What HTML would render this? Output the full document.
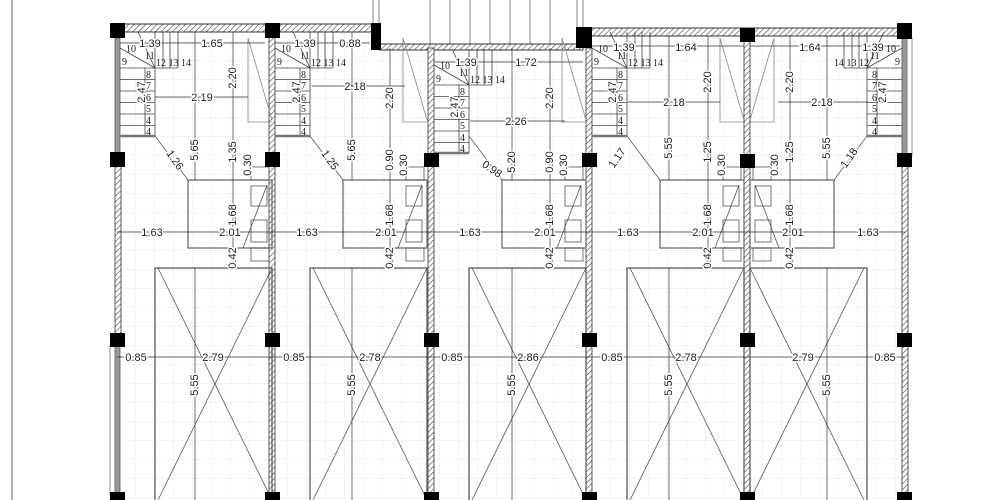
<!DOCTYPE html>
<html><head><meta charset="utf-8"><style>
html,body{margin:0;padding:0;background:#fff;}
svg{display:block;}
.d{font-family:"Liberation Sans",sans-serif;font-size:11px;fill:#222;stroke:#fff;stroke-width:3px;paint-order:stroke;stroke-linejoin:round;}
.n{font-family:"Liberation Serif",serif;font-size:10px;fill:#222;}
</style></head><body>
<svg width="1000" height="500" viewBox="0 0 1000 500" xmlns="http://www.w3.org/2000/svg">
<defs>
<pattern id="g" width="19" height="19" patternUnits="userSpaceOnUse" x="3" y="4">
<path d="M19 0V19M0 19H19" stroke="#e7e7e7" stroke-width="1" fill="none"/></pattern>
<pattern id="h" width="4" height="4" patternUnits="userSpaceOnUse" patternTransform="rotate(45)">
<rect width="4" height="4" fill="#fff"/><path d="M0 0V4" stroke="#444" stroke-width="1.2"/></pattern>
<g id="stair" fill="none" stroke="#444" stroke-width="0.8">
<path d="M3 68H38M3 79.5H38M3 91H38M3 102.5H38M3 114H38M3 125.5H38"/>
<path d="M28 68V136M38 32V136M3 48L38 68M21 32L38 68M38 68H61M46 32V68M53 32V68M61 32V68"/>
<path d="M3 136H38" stroke="#777" stroke-width="2.5"/>
</g>
<g id="unit" fill="none" stroke="#555" stroke-width="0.8">
<rect x="71" y="180" width="84" height="68" stroke-width="1.4" stroke="#777"/>
<rect x="134" y="186" width="16" height="20"/><rect x="134" y="220" width="16" height="22"/>
<rect x="134" y="167" width="18" height="13"/><rect x="134" y="248" width="18" height="13"/>
<path d="M150 185L126 248"/>
<rect x="38" y="268" width="117" height="240" stroke-width="1.4" stroke="#666"/>
<path d="M41 268L155 500M155 268L41 500"/>
<path d="M38 136L71 180"/>
<path d="M131 38V122H155M131 38L155 120" stroke="#888"/>
</g>
</defs>
<line x1="12" y1="0" x2="12" y2="500" stroke="#666" stroke-width="1"/>
<rect x="117" y="30" width="788" height="470" fill="url(#g)"/>
<rect x="373" y="0" width="210" height="48" fill="#fff"/>
<path d="M373 0V48M379 0V48M577 0V48M583 0V48M430 0V48M450 0V48M470 0V48M490 0V48M510 0V48M530 0V48M550 0V48" stroke="#666" stroke-width="0.8"/>
<rect x="117" y="24" width="256" height="8" fill="url(#h)" stroke="#333" stroke-width="1"/>
<rect x="379" y="44" width="204" height="6" fill="url(#h)" stroke="#333" stroke-width="1"/>
<rect x="583" y="28" width="322" height="8" fill="url(#h)" stroke="#333" stroke-width="1"/>
<rect x="115" y="160" width="6" height="180" fill="url(#h)" stroke="#333" stroke-width="0.8"/>
<rect x="115" y="38" width="5" height="122" fill="#999" stroke="#555" stroke-width="0.8"/>
<rect x="115" y="340" width="5" height="160" fill="#999" stroke="#555" stroke-width="0.8"/>
<rect x="110" y="345" width="5" height="150" fill="none" stroke="#777" stroke-width="0.8"/>
<rect x="269" y="30" width="6" height="470" fill="url(#h)" stroke="#333" stroke-width="0.8"/>
<rect x="428" y="48" width="6" height="452" fill="url(#h)" stroke="#333" stroke-width="0.8"/>
<rect x="586" y="48" width="6" height="452" fill="url(#h)" stroke="#333" stroke-width="0.8"/>
<rect x="744" y="34" width="6" height="466" fill="url(#h)" stroke="#333" stroke-width="0.8"/>
<rect x="902" y="160" width="6" height="340" fill="url(#h)" stroke="#333" stroke-width="0.8"/>
<rect x="902" y="36" width="5" height="124" fill="#999" stroke="#555" stroke-width="0.8"/>
<rect x="907" y="38" width="5" height="118" fill="none" stroke="#777" stroke-width="0.8"/>
<use href="#unit" x="117"/><use href="#unit" x="272"/><use href="#unit" x="431"/><use href="#unit" x="589"/>
<use href="#unit" transform="translate(905,0) scale(-1,1)"/>
<use href="#stair" x="117"/><use href="#stair" x="272"/><use href="#stair" x="431" y="17"/><use href="#stair" x="589"/>
<use href="#stair" transform="translate(905,0) scale(-1,1)"/>
<g fill="#000">
<rect x="110" y="23" width="15" height="15"/><rect x="265" y="23" width="15" height="15"/>
<rect x="371" y="23" width="10" height="27"/><rect x="576" y="27" width="16" height="21"/>
<rect x="740" y="28" width="15" height="14"/><rect x="897" y="23" width="15" height="16"/>
<rect x="110" y="152" width="15" height="15"/><rect x="265" y="152" width="15" height="15"/><rect x="424" y="153" width="15" height="14"/><rect x="582" y="153" width="15" height="14"/><rect x="740" y="154" width="15" height="14"/><rect x="897" y="153" width="15" height="14"/>
<rect x="110" y="333" width="15" height="14"/><rect x="265" y="333" width="15" height="14"/><rect x="424" y="333" width="15" height="14"/><rect x="582" y="333" width="15" height="14"/><rect x="740" y="333" width="15" height="14"/><rect x="897" y="333" width="15" height="14"/>
<rect x="110" y="492" width="15" height="10"/><rect x="265" y="492" width="15" height="10"/><rect x="424" y="492" width="15" height="10"/><rect x="582" y="492" width="15" height="10"/><rect x="740" y="492" width="15" height="10"/><rect x="897" y="492" width="15" height="10"/>
</g>
<g stroke="#333" stroke-width="0.7" fill="none">
<path d="M117 232H905M117 357H905"/>
<path d="M195 32V180M195 268V500M233 32V268M352 32V180M352 268V500M390 48V268M512 48V180M512 268V500M550 48V268M669 36V180M669 268V500M708 36V268M827 36V180M827 268V500M790 36V268"/>
<path d="M155 97H248M312 86H405M470 121H565M628 102H720M778 102H868"/>
<path d="M120 43H265M275 43H370M434 62H583M592 46H744M750 46H900"/>
</g>
<g class="d" text-anchor="middle">
<text x="150" y="47">1.39</text><text x="212" y="47">1.65</text><text x="202" y="101">2.19</text>
<text x="305" y="47">1.39</text><text x="350" y="47">0.88</text><text x="355" y="90">2.18</text>
<text x="466" y="66">1.39</text><text x="526" y="66">1.72</text><text x="516" y="125">2.26</text>
<text x="624" y="51">1.39</text><text x="686" y="51">1.64</text><text x="674" y="106">2.18</text>
<text x="810" y="51">1.64</text><text x="873" y="51">1.39</text><text x="822" y="106">2.18</text>
<text x="152" y="236">1.63</text><text x="230" y="236">2.01</text><text x="307" y="236">1.63</text><text x="386" y="236">2.01</text>
<text x="470" y="236">1.63</text><text x="545" y="236">2.01</text><text x="628" y="236">1.63</text><text x="703" y="236">2.01</text>
<text x="793" y="236">2.01</text><text x="868" y="236">1.63</text>
<text x="136" y="361">0.85</text><text x="213" y="361">2.79</text><text x="294" y="361">0.85</text><text x="370" y="361">2.78</text>
<text x="452" y="361">0.85</text><text x="528" y="361">2.86</text><text x="612" y="361">0.85</text><text x="686" y="361">2.78</text>
<text x="803" y="361">2.79</text><text x="885" y="361">0.85</text>
<text transform="translate(198,150) rotate(-90)">5.65</text><text transform="translate(236,78) rotate(-90)">2.20</text>
<text transform="translate(145,92) rotate(-90)">2.47</text><text transform="translate(236,152) rotate(-90)">1.35</text>
<text transform="translate(251,165) rotate(-90)">0.30</text><text transform="translate(236,215) rotate(-90)">1.68</text>
<text transform="translate(236,258) rotate(-90)">0.42</text><text transform="translate(198,385) rotate(-90)">5.55</text>
<text transform="translate(355,150) rotate(-90)">5.65</text><text transform="translate(393,98) rotate(-90)">2.20</text>
<text transform="translate(300,92) rotate(-90)">2.47</text><text transform="translate(393,160) rotate(-90)">0.90</text>
<text transform="translate(407,165) rotate(-90)">0.30</text><text transform="translate(393,215) rotate(-90)">1.68</text>
<text transform="translate(393,258) rotate(-90)">0.42</text><text transform="translate(355,385) rotate(-90)">5.55</text>
<text transform="translate(515,162) rotate(-90)">5.20</text><text transform="translate(553,98) rotate(-90)">2.20</text>
<text transform="translate(458,107) rotate(-90)">2.47</text><text transform="translate(553,162) rotate(-90)">0.90</text>
<text transform="translate(567,165) rotate(-90)">0.30</text><text transform="translate(553,215) rotate(-90)">1.68</text>
<text transform="translate(553,258) rotate(-90)">0.42</text><text transform="translate(515,385) rotate(-90)">5.55</text>
<text transform="translate(672,148) rotate(-90)">5.55</text><text transform="translate(711,82) rotate(-90)">2.20</text>
<text transform="translate(616,92) rotate(-90)">2.47</text><text transform="translate(711,152) rotate(-90)">1.25</text>
<text transform="translate(725,165) rotate(-90)">0.30</text><text transform="translate(711,215) rotate(-90)">1.68</text>
<text transform="translate(711,258) rotate(-90)">0.42</text><text transform="translate(672,385) rotate(-90)">5.55</text>
<text transform="translate(830,148) rotate(-90)">5.55</text><text transform="translate(793,82) rotate(-90)">2.20</text>
<text transform="translate(886,92) rotate(-90)">2.47</text><text transform="translate(793,152) rotate(-90)">1.25</text>
<text transform="translate(778,165) rotate(-90)">0.30</text><text transform="translate(793,215) rotate(-90)">1.68</text>
<text transform="translate(793,258) rotate(-90)">0.42</text><text transform="translate(830,385) rotate(-90)">5.55</text>
<text transform="translate(172,162) rotate(55)">1.26</text><text transform="translate(327,162) rotate(55)">1.25</text>
<text transform="translate(490,172) rotate(35)">0.98</text><text transform="translate(620,160) rotate(-55)">1.17</text>
<text transform="translate(852,160) rotate(-55)">1.18</text>
</g>
<g class="n">
<g id="nums"><text x="126" y="52">10</text><text x="145" y="59">11</text><text x="122" y="65">9</text><text x="156" y="66">12 13 14</text>
<text x="146" y="78">8</text><text x="146" y="89">7</text><text x="146" y="101">6</text><text x="146" y="112">5</text><text x="146" y="124">4</text><text x="146" y="135">4</text></g>
<use href="#nums" x="155"/><use href="#nums" x="314" y="17"/><use href="#nums" x="472"/>
<text x="886" y="52">10</text><text x="870" y="59">11</text><text x="895" y="65">9</text><text x="834" y="66">14 13 12</text>
<text x="872" y="78">8</text><text x="872" y="89">7</text><text x="872" y="101">6</text><text x="872" y="112">5</text><text x="872" y="124">4</text><text x="872" y="135">4</text>
</g>
</svg>
</body></html>
